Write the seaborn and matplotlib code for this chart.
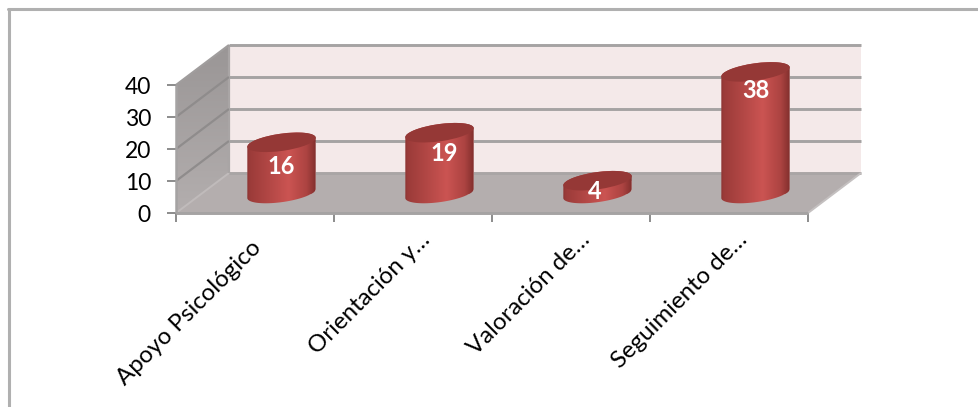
import numpy as np
import pandas as pd
import matplotlib
matplotlib.use("Agg")
import matplotlib.pyplot as plt
import seaborn as sns
from matplotlib.colors import LinearSegmentedColormap
from matplotlib.lines import Line2D
from matplotlib.path import Path
from matplotlib.patches import Ellipse, Polygon, PathPatch
from matplotlib.transforms import Affine2D, IdentityTransform

categorias = ["Apoyo Psicológico", "Orientación y…", "Valoración de…", "Seguimiento de…"]
valores = [16, 19, 4, 38]
y_ticks = [0, 10, 20, 30, 40]

# style / layout (pixels)
W, H = 979, 407
LEFT, RIGHT, FRONT0, FRONT40 = 176, 808, 213, 85
DEPTH = (53, 40)
BAR_DEPTH = (26.5, 19.5)
A, B, PHI = 34.5, 8.6, np.deg2rad(8)
label_shift = [(0, -24), (5, -21), (-3, -11), (0, -19)]
tick_label_shift = [(-5, 1), (6, 9), (8, 9), (7, 9)]
LINE = "#A5A3A3"

sns.set_theme(style="white")
plt.rcParams["font.family"] = ["Lato", "DejaVu Sans"]
fig = plt.figure(figsize=(W / 100, H / 100), dpi=100, facecolor="white")
ax = fig.add_axes([LEFT / W, (H - FRONT0) / H, (RIGHT - LEFT) / W, (FRONT0 - FRONT40) / H])
ax.patch.set_visible(False)
for s in ax.spines.values():
    s.set_visible(False)

df = pd.DataFrame({"categoria": categorias, "valor": valores})
sns.barplot(data=df, x="categoria", y="valor", width=0.43, color="#A5403E", ax=ax, zorder=5)
XLIM = (-0.5, len(categorias) - 0.5)
YLIM = (0, y_ticks[-1])
ax.set_xlim(XLIM)
ax.set_ylim(YLIM)
ax.set_xlabel("")
ax.set_ylabel("")

pixel = IdentityTransform()
bar_t = ax.transData + Affine2D().translate(*BAR_DEPTH)


def px(x, y, depth=(0, 0)):
    p = ax.transData.transform((x, y))
    return p[0] + depth[0], p[1] + depth[1]


def poly(points, color, z):
    ax.add_patch(Polygon(points, closed=True, facecolor=color, edgecolor="none",
                         transform=pixel, clip_on=False, zorder=z))


def seg(a, b, z=3, lw=1.9, color=LINE):
    ax.add_line(Line2D([a[0], b[0]], [a[1], b[1]], color=color, lw=lw, transform=pixel,
                       clip_on=False, zorder=z, solid_capstyle="butt"))


x0, x1 = XLIM
y0, y1 = YLIM
# back wall
poly([px(x0, y0, DEPTH), px(x1, y0, DEPTH), px(x1, y1, DEPTH), px(x0, y1, DEPTH)], "#F4E9E9", 1)
# side wall with vertical gradient
side_pts = [px(x0, y0), px(x0, y0, DEPTH), px(x0, y1, DEPTH), px(x0, y1)]
side = Polygon(side_pts, closed=True, transform=pixel, facecolor="none", edgecolor="none")
ax.add_patch(side)
side_cm = LinearSegmentedColormap.from_list("side", ["#9A9696", "#B3AEAE"])
im = ax.imshow(np.linspace(0, 1, 64)[:, None], cmap=side_cm, aspect="auto", origin="upper",
               extent=(side_pts[0][0], side_pts[1][0], side_pts[0][1], side_pts[2][1]),
               transform=pixel, zorder=1)
im.set_clip_box(fig.bbox)
im.set_clip_path(side)
# floor
poly([px(x0, y0), px(x1, y0), px(x1, y0, DEPTH), px(x0, y0, DEPTH)], "#B4AEAE", 2)

# gridlines on the walls
for v in y_ticks[1:]:
    seg(px(x0, v), px(x0, v, DEPTH), lw=1.6, color="#A09D9D" if v == y1 else "#8F8C8C")
    seg(px(x0, v, DEPTH), px(x1, v, DEPTH), lw=2.1)
seg(px(x0, y0, DEPTH), px(x1, y0, DEPTH), lw=2.1, color="#A9A5A5", z=2.5)
seg(px(x0, y0), px(x0, y0, DEPTH), lw=1.4, color="#C0BBBB", z=2.5)
seg(px(x1, y0), px(x1, y0, DEPTH), lw=1.4, color="#C4C0C0", z=2.5)
seg(px(x0, y0, DEPTH), px(x0, y1, DEPTH), lw=1.6, color="#A9A5A5", z=2.5)
seg(px(x0, y0), px(x1, y0), lw=2.1, z=4)
seg(px(x0, y0), px(x0, y1), lw=1.8, z=4)

# cylinders from the seaborn bars
body_cm = LinearSegmentedColormap.from_list(
    "body", [(0, "#7E2F2D"), (0.06, "#9B3B39"), (0.3, "#B04644"), (0.6, "#CB5452"),
             (0.85, "#AC4341"), (0.95, "#8A3331"), (1, "#772A28")])
grad = np.linspace(0, 1, 128)[None, :]


def ellipse_pts(cx, cy, t):
    x = cx + A * np.cos(t) * np.cos(PHI) - B * np.sin(t) * np.sin(PHI)
    y = cy + A * np.cos(t) * np.sin(PHI) + B * np.sin(t) * np.cos(PHI)
    return np.column_stack([x, y])


t0 = np.arctan(-(B / A) * np.tan(PHI))
for i, bar in enumerate(ax.containers[0]):
    cx = bar.get_x() + bar.get_width() / 2
    v = bar.get_height()
    bx, by = px(cx, 0, BAR_DEPTH)
    tx, ty = px(cx, v, BAR_DEPTH)
    low = ellipse_pts(bx, by, np.linspace(t0, t0 - np.pi, 60))
    up = ellipse_pts(tx, ty, np.linspace(t0 + np.pi, t0, 60))
    verts = np.vstack([low, up, low[:1]])
    sil = PathPatch(Path(verts, closed=True), transform=pixel, facecolor="none", edgecolor="none")
    ax.add_patch(sil)
    bar.set_transform(bar_t)
    bar.set_clip_box(fig.bbox)
    bar.set_clip_path(sil)
    g = ax.imshow(grad, cmap=body_cm, aspect="auto", zorder=6, interpolation="bilinear",
                  extent=(bx - A - 2, bx + A + 2, by - B - 6, ty + B + 6), transform=pixel)
    g.set_clip_box(fig.bbox)
    g.set_clip_path(sil)
    ax.add_patch(Ellipse((tx, ty), 2 * A, 2 * B, angle=np.rad2deg(PHI), facecolor="#953836",
                         edgecolor="none", transform=pixel, clip_on=False, zorder=7))
    ax.annotate(str(valores[i]), xy=(cx, v), xycoords=bar_t, xytext=label_shift[i],
                textcoords="offset pixels", ha="center", va="center", color="white",
                fontsize=17, fontweight="bold", zorder=9, annotation_clip=False)

ax.set_xlim(XLIM)
ax.set_ylim(YLIM)

# axes ticks
ax.set_yticks(y_ticks)
ax.tick_params(axis="y", length=6.5, width=1.4, color="#8C8C8C", labelsize=16.5, labelcolor="black", pad=11.5,
               left=True)
ax.set_xticks(np.arange(len(categorias) + 1) - 0.5, minor=True)
ax.tick_params(axis="x", which="minor", length=6.5, width=1.4, color="#8C8C8C", bottom=True)
ax.tick_params(axis="x", which="major", length=0, pad=18, labelsize=17.3, labelcolor="black")
ax.set_xticks(range(len(categorias)))
ax.set_xticklabels(categorias, rotation=45, ha="right", rotation_mode="anchor")
for t, (dx, dy) in zip(ax.get_xticklabels(), tick_label_shift):
    t.set_transform(t.get_transform() + Affine2D().translate(dx, dy))

# outer frame
fig.add_artist(Line2D([9 / W, 9 / W], [0, (H - 9) / H], color="#B0B0B0", lw=2.2, transform=fig.transFigure))
fig.add_artist(Line2D([8 / W, 1], [(H - 9) / H, (H - 9) / H], color="#B0B0B0", lw=2.2, transform=fig.transFigure))

fig.savefig("out.png", dpi=100, facecolor="white")
